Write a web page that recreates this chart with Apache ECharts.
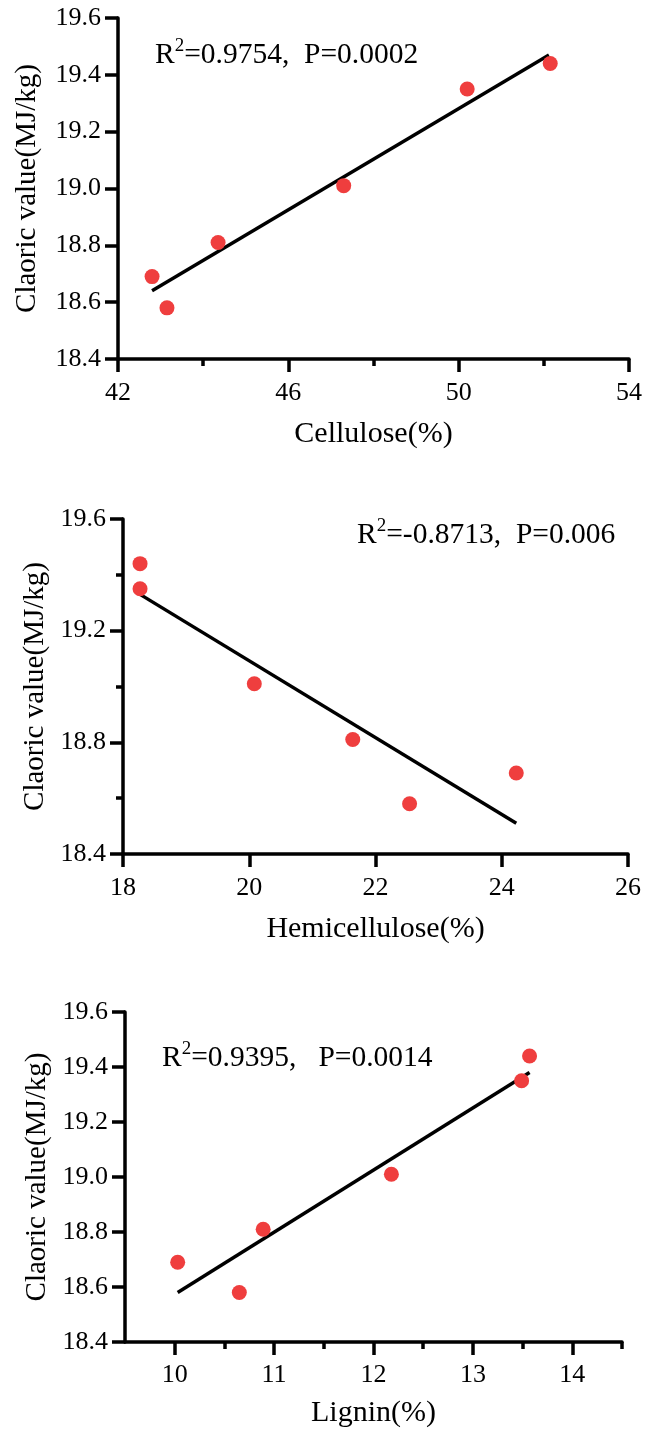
<!DOCTYPE html>
<html>
<head>
<meta charset="utf-8">
<script src="https://cdn.jsdelivr.net/npm/echarts@6/dist/echarts.min.js"></script>
<style>
html,body{margin:0;padding:0;background:#fff;}
#chart{width:645px;height:1432px;}
</style>
</head>
<body>
<div id="chart"></div>
<script>
// ---- data ----
const calorific = [18.69, 18.58, 18.81, 19.01, 19.35, 19.44];
const cellulose = [42.8, 43.15, 44.35, 47.3, 50.2, 52.15];
const hemicellulose = [24.23, 22.54, 21.64, 20.08, 18.27, 18.27];
const lignin = [10.03, 10.65, 10.89, 12.18, 13.49, 13.57];

const fit1X = [42.8, 52.12], fit1Y = [18.64, 19.47];
const fit2X = [18.27, 24.23], fit2Y = [19.33, 18.51];
const fit3X = [10.03, 13.57], fit3Y = [18.58, 19.38];

const ligninTicks = [10, 11, 12, 13, 14];
const ligninMinorTicks = [10.5, 11.5, 12.5, 13.5, 14.5];

const xTitles = ['Cellulose(%)', 'Hemicellulose(%)', 'Lignin(%)'];
const yTitle = 'Claoric value(MJ/kg)';
const notes = [
  ['=0.9754,  P=0.0002'],
  ['=-0.8713,  P=0.006'],
  ['=0.9395,   P=0.0014']
];

// ---- styling ----
const FONT = 'Liberation Serif';
const black = '#000';
const red = '#EF3E3E';
const lineW = 3.5;
const LBL = 26;

function pairs(xs, ys) { return xs.map((x, i) => [x, ys[i]]); }

function lbl(margin, extra) {
  return Object.assign({ show: true, color: black, fontFamily: FONT, fontSize: LBL, margin: margin }, extra || {});
}

function baseAxisCommon(nameSize) {
  return {
    axisLine: { show: true, lineStyle: { color: black, width: lineW } },
    axisTick: { show: true, length: 13, lineStyle: { color: black, width: lineW } },
    splitLine: { show: false },
    nameTextStyle: { color: black, fontFamily: FONT, fontSize: nameSize },
    nameLocation: 'middle'
  };
}

const grids = [
  { left: 118, right: 11, top: 18, height: 341 },
  { left: 123, right: 17, top: 519, height: 335 },
  { left: 125, right: 23, top: 1012, height: 330 }
];

const c = baseAxisCommon;
const minor = { show: true, splitNumber: 2, length: 7, lineStyle: { color: black, width: lineW } };
const fmt1 = v => v.toFixed(1);

const xAxes = [
  Object.assign(c(30), { type: 'value', gridIndex: 0, min: 42, max: 54, interval: 4, name: xTitles[0], nameGap: 60,
    minorTick: minor, axisLabel: lbl(21) }),
  Object.assign(c(30), { type: 'value', gridIndex: 1, min: 18, max: 26, interval: 2, name: xTitles[1], nameGap: 60,
    axisLabel: lbl(21) }),
  Object.assign(c(30), { type: 'value', gridIndex: 2, min: 9.5, max: 14.5, name: xTitles[2], nameGap: 56,
    axisTick: { show: true, length: 13, customValues: ligninTicks, lineStyle: { color: black, width: lineW } },
    axisLabel: lbl(20, { customValues: ligninTicks }) }),
  { type: 'value', gridIndex: 2, min: 9.5, max: 14.5, position: 'bottom',
    axisLine: { show: false },
    axisTick: { show: true, length: 7, customValues: ligninMinorTicks, lineStyle: { color: black, width: lineW } },
    axisLabel: { show: false }, splitLine: { show: false } }
];

const yAxes = [
  Object.assign(c(29), { type: 'value', gridIndex: 0, min: 18.4, max: 19.6, interval: 0.2, name: yTitle, nameGap: 76,
    axisLabel: lbl(17, { formatter: fmt1 }) }),
  Object.assign(c(29), { type: 'value', gridIndex: 1, min: 18.4, max: 19.6, interval: 0.4, name: yTitle, nameGap: 72,
    minorTick: minor, axisLabel: lbl(17, { formatter: fmt1 }) }),
  Object.assign(c(29), { type: 'value', gridIndex: 2, min: 18.4, max: 19.6, interval: 0.2, name: yTitle, nameGap: 70,
    axisLabel: lbl(17, { formatter: fmt1 }) })
];

const scatters = [cellulose, hemicellulose, lignin];
const fits = [[fit1X, fit1Y], [fit2X, fit2Y], [fit3X, fit3Y]];
const series = [];
for (let i = 0; i < 3; i++) {
  series.push({
    type: 'line', xAxisIndex: i, yAxisIndex: i, data: pairs(fits[i][0], fits[i][1]),
    showSymbol: false, symbol: 'none', lineStyle: { color: black, width: lineW }, z: 2, silent: true
  });
  series.push({
    type: 'scatter', xAxisIndex: i, yAxisIndex: i, data: pairs(scatters[i], calorific),
    symbol: 'circle', symbolSize: 15, itemStyle: { color: red, opacity: 1 }, z: 3
  });
}

const notePos = [
  { left: 155, top: 37 },
  { left: 357, top: 517 },
  { left: 162, top: 1040 }
];
const rich = {
  m: { fontFamily: FONT, fontSize: 29.5, fill: black, lineHeight: 36 },
  s: { fontFamily: FONT, fontSize: 19, fill: black, lineHeight: 22, verticalAlign: 'top' }
};
const graphic = notes.map((n, i) => ({
  type: 'text', left: notePos[i].left, top: notePos[i].top,
  style: { text: '{m|R}{s|2}{m|' + n[0] + '}', rich: rich }
}));

const chart = echarts.init(document.getElementById('chart'), null, { renderer: 'canvas' });
chart.setOption({
  animation: false,
  backgroundColor: '#fff',
  textStyle: { fontFamily: FONT, color: black },
  grid: grids,
  xAxis: xAxes,
  yAxis: yAxes,
  series: series,
  graphic: graphic
});
</script>
</body>
</html>
